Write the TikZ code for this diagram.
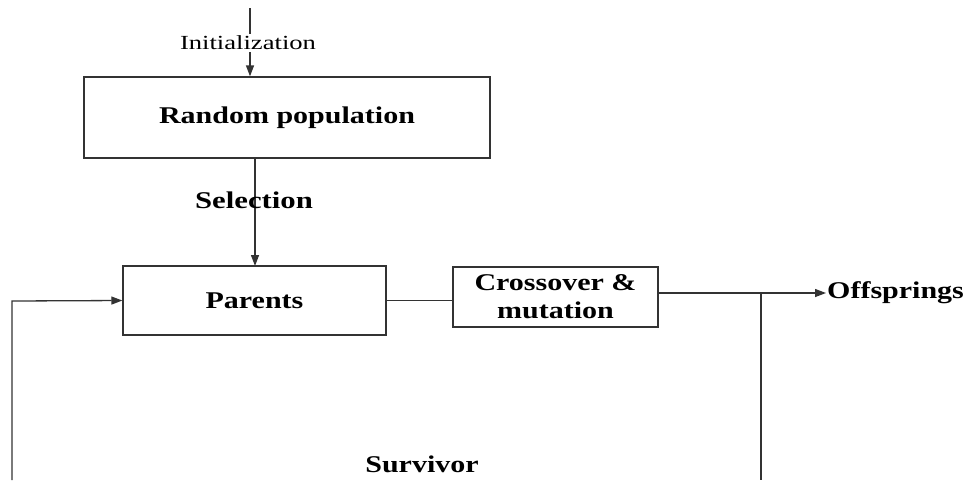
\documentclass[tikz,border=0pt]{standalone}
\usepackage{graphicx}
\usepackage{fontspec}
\setmainfont{Liberation Serif}
\usetikzlibrary{arrows.meta}
% wide-set label text
\newcommand{\widetxt}[2][1.25]{\scalebox{#1}[1]{#2}}
\definecolor{linecol}{HTML}{333333}
\begin{document}
\begin{tikzpicture}[x=1pt,y=-1pt,
  box/.style={draw=linecol, line width=1.3pt, inner sep=0pt, align=center,
    font=\fontsize{24}{28}\selectfont\bfseries},
  lbl/.style={inner sep=1pt, font=\fontsize{24}{28}\selectfont\bfseries},
  wire/.style={draw=linecol, line width=1.3pt},
  arr/.style={wire, -{Triangle[length=11pt,width=8pt]}}]
\useasboundingbox (0,0) rectangle (968,480);

% blocks
\node[box, minimum width=406pt, minimum height=81pt] (rand) at (287,117.5) {\widetxt{Random population}};
\node[box, minimum width=263pt, minimum height=69pt] (par) at (254.5,300.5) {\widetxt{Parents}};
\node[box, minimum width=205pt, minimum height=60pt] (cross) at (555.5,297) {\widetxt{Crossover \&}\\\widetxt{mutation}};
\node[lbl, anchor=west] (off) at (826,293) {\widetxt{Offsprings}};

% flow
\coordinate (top) at (250,8);
\draw[arr] (top) -- (top |- rand.north);
\node[inner sep=2pt, fill=white, font=\fontsize{20}{24}\selectfont] (init) at (248,43) {\widetxt[1.33]{Initialization}};

\draw[arr] (255,158) -- (255,266);
\node[lbl] (sel) at (254,200) {\widetxt[1.28]{Selection}};

\draw[wire] (par.east) -- (par.east -| cross.west);
\draw[arr] (cross.east |- off.west) -- (off.west);

% survivor loop
\coordinate (junc) at (761,293);
\coordinate (jbot) at (761,480);
\coordinate (lbot) at (12,480);
\coordinate (lcorner) at (12,301);
\draw[wire] (junc) -- (jbot);
\draw[arr] (lbot) -- (lcorner) -- (par.west);
\node[lbl] (surv) at (422,464) {\widetxt{Survivor}};
\end{tikzpicture}
\end{document}
